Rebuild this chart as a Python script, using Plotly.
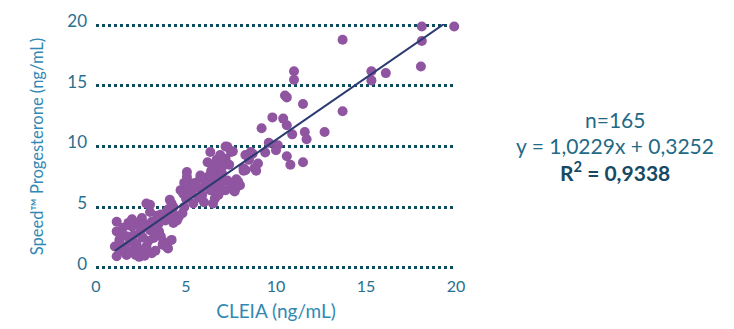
import plotly.graph_objects as go

# CLEIA reference method (x) vs Speed Progesterone (y), ng/mL
cleia = [
    18.1, 19.9, 18.1, 13.7, 18.05, 15.3, 15.3, 16.1, 11.5, 13.7, 11.6, 12.7,
    11.0, 11.0, 10.5, 10.6, 10.4, 10.6, 10.9, 11.7,
    9.8, 9.2, 10.1, 10.0, 7.6, 8.7, 9.4, 10.6, 10.8, 11.5, 8.5, 8.8, 8.2,
    6.35, 7.2, 7.5, 6.7, 7.2, 8.2, 8.9, 5.05, 6.6, 6.2, 6.7, 7.3, 7.5, 7.7, 7.2, 6.5, 4.7, 5.05, 5.2,
    7.1, 6.8, 7.4, 8.3, 8.3, 4.9, 5.5, 6.1, 6.5, 7.1, 7.55, 7.75, 6.35, 5.15, 4.85, 5.9, 6.6, 6.5,
    4.1, 4.3, 3.85, 4.8, 5.4,
    3.0, 3.0, 4.2, 4.9, 1.15, 1.8, 2.2, 2.55, 3.1, 3.5, 3.85, 4.2, 4.3, 1.15, 1.7, 2.1, 2.45,
    3.0, 3.5, 3.2, 3.75, 4.2, 1.05, 1.6, 2.25, 2.8, 1.15, 1.7, 2.2, 2.6, 3.1, 4.0, 2.1,
    7.3, 8.6, 2.8, 3.9, 6.6, 7.7, 5.6, 6.0, 6.9, 5.8, 6.3, 7.0,
    1.4, 1.9, 2.4, 2.7, 3.3, 1.3, 1.9, 2.6, 3.3, 3.6, 1.5, 2.0, 2.9, 3.4, 4.5,
    1.3, 2.4, 2.9, 1.9, 2.5, 3.7, 4.6, 4.0, 5.7, 6.0, 6.9, 5.3,
    7.0, 7.8, 6.4, 5.8, 6.8, 7.9, 8.0, 9.0, 4.4, 3.6, 2.0, 1.4, 2.3, 2.7,
    3.4, 5.0, 6.2, 6.9, 9.6,
]
speed = [
    19.9, 19.9, 18.7, 18.8, 16.6, 16.2, 15.45, 16.05, 13.5, 12.9, 11.2, 11.2,
    16.2, 15.5, 14.2, 14.05, 12.3, 11.75, 11.0, 10.6,
    12.4, 11.5, 10.1, 9.7, 9.6, 9.4, 9.5, 9.2, 8.5, 8.7, 8.9, 8.2, 8.2,
    9.55, 10.0, 9.55, 8.9, 9.0, 8.0, 8.0, 7.9, 8.3, 7.2, 7.5, 7.2, 6.7, 6.3, 6.4, 6.4, 6.4, 7.5, 7.0,
    8.7, 8.05, 8.5, 9.3, 8.05, 7.0, 7.0, 7.1, 7.0, 7.2, 7.0, 6.55, 6.4, 6.4, 6.1, 6.0, 5.7, 5.3,
    5.6, 5.0, 4.5, 4.5, 5.3,
    5.2, 4.6, 5.3, 5.0, 3.8, 3.7, 3.7, 4.1, 3.8, 3.7, 3.9, 4.1, 3.7, 3.0, 2.6, 2.7, 2.85,
    3.1, 3.0, 2.45, 2.15, 2.3, 1.75, 1.75, 2.0, 1.75, 0.95, 1.05, 1.05, 1.2, 1.2, 1.6, 1.5,
    9.97, 9.55, 5.3, 1.75, 8.5, 6.4, 6.6, 6.7, 6.8, 7.4, 7.6, 7.8,
    1.4, 1.3, 1.5, 1.0, 1.4, 2.3, 2.2, 2.5, 2.9, 2.6, 3.3, 3.4, 3.4, 3.4, 3.9,
    1.9, 0.9, 2.2, 3.5, 3.2, 1.9, 4.2, 4.8, 5.8, 5.4, 6.3, 6.1,
    8.3, 7.3, 8.0, 7.6, 6.0, 7.1, 6.8, 8.6, 4.3, 4.4, 4.0, 2.8, 1.4, 3.6,
    4.3, 5.7, 8.7, 9.3, 10.3,
]

# Linear fit reported for the comparison
n_label = 165
slope = 1.0229
intercept = 0.3252
r_squared = 0.9338

axis_ticks = [0, 5, 10, 15, 20]

fit_x = [min(cleia), max(cleia)]
fit_y = [slope * v + intercept for v in fit_x]


def comma(v):
    return str(v).replace(".", ",")


fig = go.Figure()
fig.add_trace(go.Scatter(
    x=cleia, y=speed, mode="markers",
    marker=dict(color="#8f55a0", size=10, line=dict(width=0)),
    cliponaxis=False, showlegend=False, hoverinfo="skip",
))
fig.add_trace(go.Scatter(
    x=fit_x, y=fit_y, mode="lines",
    line=dict(color="#2c3a70", width=2),
    showlegend=False, hoverinfo="skip",
))

tick_color = "#27708f"
title_color = "#3189b3"

fig.update_layout(
    width=734, height=329,
    margin=dict(l=96, r=278, t=24, b=60),
    paper_bgcolor="white", plot_bgcolor="white",
    font=dict(family="Lato", size=16, color=tick_color),
)
fig.update_xaxes(
    range=[0, 20], tickvals=axis_ticks, showgrid=False, zeroline=False,
    showline=False, ticks="", ticklabelstandoff=6, automargin=False,
    tickfont=dict(size=16, color=tick_color),
    title=dict(text="CLEIA (ng/mL)", font=dict(size=19, color=title_color), standoff=10),
)
# small padding keeps the 0 and 20 grid lines inside the plot area
fig.update_yaxes(
    range=[-0.1, 20.1], tickvals=axis_ticks, showgrid=True, gridcolor="#0e4d5e",
    gridwidth=2.5, griddash="dot", zeroline=False, showline=False,
    ticks="", ticklabelstandoff=8, ticklabelshift=-4, automargin=False,
    tickfont=dict(size=17, color=tick_color),
    title=dict(text="Speed™ Progesterone (ng/mL)", font=dict(size=16.5, color=title_color), standoff=19),
)

ann_color = "#1f6a87"
ann_x = 615
ann_font = 21
plot_h = 329 - 24 - 60
fig.add_annotation(xref="paper", yref="paper", x=(ann_x - 96) / 360, xanchor="center",
                   y=(269 - 119) / plot_h, yanchor="middle", text=f"n={n_label}",
                   showarrow=False, font=dict(size=ann_font, color=ann_color))
fig.add_annotation(xref="paper", yref="paper", x=(ann_x - 96) / 360, xanchor="center",
                   y=(269 - 145) / plot_h, yanchor="middle",
                   text=f"y = {comma(slope)}x + {comma(intercept)}",
                   showarrow=False, font=dict(size=ann_font, color=ann_color))
fig.add_annotation(xref="paper", yref="paper", x=(ann_x - 96) / 360, xanchor="center",
                   y=(269 - 171) / plot_h, yanchor="middle",
                   text=f"<b>R<sup>2</sup> = {comma(r_squared)}</b>",
                   showarrow=False, font=dict(size=ann_font, color="#164a63"))

fig.write_html("out.html")
